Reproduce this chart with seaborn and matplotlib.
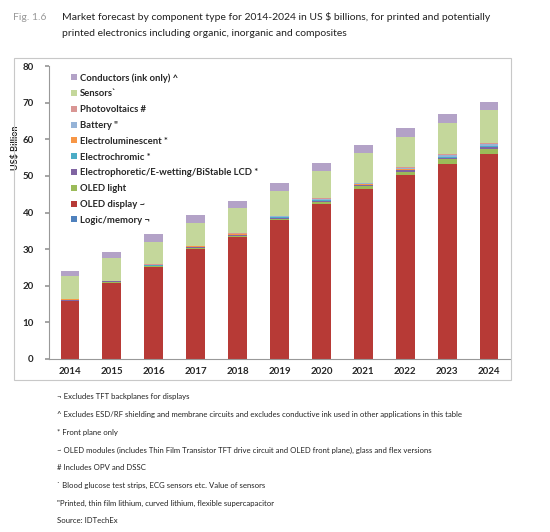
import matplotlib
matplotlib.use("Agg")
import matplotlib.pyplot as plt
from matplotlib.patches import Rectangle
from matplotlib.ticker import FixedLocator
import pandas as pd
import seaborn as sns

years = [2014, 2015, 2016, 2017, 2018, 2019, 2020, 2021, 2022, 2023, 2024]

logic_memory = [0.02, 0.02, 0.02, 0.03, 0.03, 0.03, 0.04, 0.04, 0.05, 0.05, 0.05]
oled_display = [15.8, 20.8, 25.1, 30.1, 33.3, 37.9, 42.4, 46.5, 50.3, 53.3, 55.8]
oled_light = [0.1, 0.15, 0.2, 0.25, 0.3, 0.4, 0.5, 0.6, 0.8, 1.2, 1.6]
electrophoretic = [0.2, 0.2, 0.2, 0.2, 0.2, 0.25, 0.3, 0.3, 0.35, 0.4, 0.4]
electrochromic = [0.05, 0.05, 0.05, 0.1, 0.1, 0.1, 0.15, 0.15, 0.2, 0.2, 0.25]
electroluminescent = [0.1, 0.1, 0.1, 0.1, 0.1, 0.1, 0.1, 0.1, 0.1, 0.1, 0.1]
battery = [0.05, 0.05, 0.1, 0.1, 0.15, 0.2, 0.25, 0.3, 0.35, 0.4, 0.45]
photovoltaics = [0.05, 0.05, 0.05, 0.1, 0.1, 0.1, 0.15, 0.15, 0.2, 0.2, 0.25]
sensors = [6.3, 6.1, 6.2, 6.25, 7.05, 6.9, 7.55, 8.1, 8.15, 8.7, 9.1]
conductors = [1.4, 1.7, 2.0, 2.1, 1.8, 2.2, 2.2, 2.3, 2.5, 2.3, 2.3]

# legend order, top of stack first
components = [
    ("Conductors (ink only) ^", conductors, "#b3a2c7"),
    ("Sensors`", sensors, "#c4d79b"),
    ("Photovoltaics #", photovoltaics, "#d99694"),
    ("Battery \"", battery, "#95b3d7"),
    ("Electroluminescent *", electroluminescent, "#f79646"),
    ("Electrochromic *", electrochromic, "#4bacc6"),
    ("Electrophoretic/E-wetting/BiStable LCD *", electrophoretic, "#8064a2"),
    ("OLED light", oled_light, "#9bbb59"),
    ("OLED display ~", oled_display, "#b73a36"),
    ("Logic/memory ¬", logic_memory, "#4f81bd"),
]

footnotes = [
    "¬ Excludes TFT backplanes for displays",
    "^ Excludes ESD/RF shielding and membrane circuits and excludes conductive ink used in other applications in this table",
    "* Front plane only",
    "~ OLED modules (includes Thin Film Transistor TFT drive circuit and OLED front plane), glass and flex versions",
    "# Includes OPV and DSSC",
    "` Blood glucose test strips, ECG sensors etc. Value of sensors",
    "\"Printed, thin film lithium, curved lithium, flexible supercapacitor",
    "Source: IDTechEx",
]

rows = []
for name, vals, _ in components:
    for y, v in zip(years, vals):
        rows.append({"Year": y, "Component": name, "Value": v})
df = pd.DataFrame(rows)

sns.set_theme(style="white")
plt.rcParams["font.family"] = ["Lato", "DejaVu Sans"]

fig = plt.figure(figsize=(5.5, 5.32), dpi=100)
W, H = 550, 532
ax = fig.add_axes([49 / W, 1 - 359 / H, 461 / W, 293 / H])

sns.histplot(
    data=df,
    x="Year",
    weights="Value",
    hue="Component",
    hue_order=[c[0] for c in components],
    palette={c[0]: c[2] for c in components},
    multiple="stack",
    discrete=True,
    shrink=0.45,
    alpha=1,
    linewidth=0,
    ax=ax,
)

ax.set_xlim(years[0] - 0.5, years[-1] + 0.5)
ax.set_ylim(0, 80)
ax.set_xticks(years)
ax.set_xticklabels([str(y) for y in years], fontsize=7, fontweight="bold")
ax.xaxis.set_minor_locator(FixedLocator([y - 0.5 for y in years] + [years[-1] + 0.5]))
ax.set_yticks(range(0, 81, 10))
ax.set_yticklabels([str(v) for v in range(0, 81, 10)], fontsize=7, fontweight="bold")
ax.tick_params(axis="x", which="major", length=0, pad=6)
ax.tick_params(axis="x", which="minor", length=4, color="#999999", direction="out")
ax.tick_params(axis="y", length=3, color="#999999", direction="out", left=True, pad=8)
ax.set_xlabel("")
ax.set_ylabel("US$ Billion", fontsize=6.5, fontweight="bold", labelpad=4)
ax.yaxis.set_label_coords(-0.062, 0.72)
for side in ["top", "right"]:
    ax.spines[side].set_visible(False)
for side in ["left", "bottom"]:
    ax.spines[side].set_color("#999999")
    ax.spines[side].set_linewidth(0.8)

sns.move_legend(
    ax, "upper left",
    bbox_to_anchor=(0.03, 1.005),
    title=None,
    frameon=False,
    fontsize=6.8,
    handlelength=0.6,
    handleheight=0.6,
    handletextpad=0.3,
    labelspacing=0.72,
)
for t in ax.get_legend().get_texts():
    t.set_fontweight("bold")

# outer chart frame
fig.patches.append(Rectangle((14 / W, 1 - 380 / H), 497 / W, 322 / H,
                             transform=fig.transFigure, fill=False,
                             edgecolor="#c8c8c8", linewidth=0.8))

fig.text(13 / W, 1 - 17 / H, "Fig. 1.6", fontsize=7.5, color="#999999", va="center")
fig.text(62 / W, 1 - 17 / H,
         "Market forecast by component type for 2014-2024 in US $ billions, for printed and potentially",
         fontsize=7.5, color="#222222", va="center")
fig.text(62 / W, 1 - 34 / H,
         "printed electronics including organic, inorganic and composites",
         fontsize=7.5, color="#222222", va="center")

for i, line in enumerate(footnotes):
    fig.text(57 / W, 1 - (397 + i * 17.7) / H, line, fontsize=5.6,
             color="#222222", va="center")

fig.savefig("out.png", dpi=100)
